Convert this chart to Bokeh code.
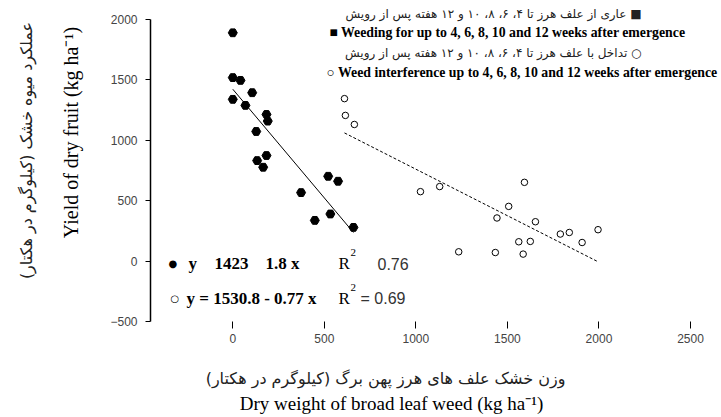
import numpy as np
from bokeh.plotting import figure
from bokeh.models import Label, FixedTicker, Range1d
from bokeh.embed import file_html
from bokeh.resources import INLINE

# ---------------- data ----------------
filled_x = [0, 0, 42, 106, 0, 69, 184, 191, 128, 184, 133, 166, 521, 575, 373, 533, 448, 659]
filled_y = [1890, 1519, 1496, 1394, 1339, 1289, 1214, 1159, 1073, 874, 832, 777, 702, 661, 567, 390, 337, 279]

open_x = [610, 615, 664, 1025, 1130, 1593, 1507, 1443, 1653, 1789, 1838, 1995, 1908, 1562, 1625, 1586, 1434, 1234]
open_y = [1345, 1206, 1131, 575, 617, 652, 453, 357, 326, 224, 237, 260, 154, 160, 163, 58, 71, 77]

fit_filled = [1423.0, -1.8]     # intercept, slope
fit_open = [1530.8, -0.77]
r2_filled = "0.76"
r2_open = "0.69"

x_ticks = [0, 500, 1000, 1500, 2000, 2500]
y_ticks = [-500, 0, 500, 1000, 1500, 2000]

legend_fa_1 = "عاری از علف هرز تا ۴، ۶، ۸، ۱۰ و ۱۲ هفته پس از رویش ■"
legend_en_1 = "■ Weeding for up to 4, 6, 8, 10 and 12 weeks after emergence"
legend_fa_2 = "تداخل با علف هرز تا ۴، ۶، ۸، ۱۰ و ۱۲ هفته پس از رویش ○"
legend_en_2 = "○ Weed interference up to 4, 6, 8, 10 and 12 weeks after emergence"

ytitle_fa = "عملکرد میوه خشک (کیلوگرم در هکتار)"
ytitle_en = "Yield of dry fruit (kg ha⁻¹)"
xtitle_fa = "وزن خشک علف های هرز پهن برگ (کیلوگرم در هکتار)"
xtitle_en = "Dry weight of broad leaf weed (kg ha⁻¹)"

# ---------------- figure ----------------
W, H = 719, 415
# the frame covers the whole canvas; axes are pinned inside it
XR = (-1268.8, 2658.4)
YR = (-1278.1, 2157.3)

p = figure(width=W, height=H, output_backend="svg", toolbar_location=None,
           x_range=Range1d(*XR), y_range=Range1d(*YR))
p.min_border_left = 0
p.min_border_right = 0
p.min_border_top = 0
p.min_border_bottom = 0
p.outline_line_color = None
p.grid.visible = False
p.background_fill_color = "white"
p.border_fill_color = "white"

def X(px):  # picture pixel -> data x
    return XR[0] + px / W * (XR[1] - XR[0])

def Y(py):  # picture pixel -> data y
    return YR[1] - py / H * (YR[1] - YR[0])

# axes
ya = p.yaxis[0]
ya.fixed_location = X(150)
ya.ticker = FixedTicker(ticks=y_ticks)
ya.bounds = (-500, 2000)
ya.axis_line_width = 1.5
ya.axis_line_color = "black"
ya.major_tick_out = 5
ya.major_tick_in = 0
ya.major_tick_line_color = "black"
ya.minor_tick_line_color = None
ya.major_label_standoff = 8
ya.major_label_text_font = "Liberation Sans"
ya.major_label_text_font_size = "12px"
ya.major_label_text_color = "#444444"

xa = p.xaxis[0]
xa.fixed_location = -500
xa.ticker = FixedTicker(ticks=x_ticks)
xa.axis_line_color = None
xa.major_tick_out = 7
xa.major_tick_in = 0
xa.major_tick_line_color = "black"
xa.minor_tick_line_color = None
xa.major_label_standoff = 5
xa.major_label_text_font = "Liberation Sans"
xa.major_label_text_font_size = "12px"
xa.major_label_text_color = "#444444"

# regression lines
fx = np.array([min(filled_x), max(filled_x)], dtype=float)
p.line(fx, fit_filled[0] + fit_filled[1] * fx, line_color="black", line_width=1)
ox = np.array([min(open_x), max(open_x)], dtype=float)
p.line(ox, fit_open[0] + fit_open[1] * ox, line_color="black", line_width=1, line_dash="3 2")

# points
p.scatter(filled_x, filled_y, marker="hex", size=9, fill_color="black", line_color="black")
p.scatter(open_x, open_y, marker="circle", size=6.5, fill_color="white", line_color="black", line_width=1)

def lab(text, px, py, size, font="Liberation Serif", style="normal", align="left",
        baseline="middle", color="black", angle=0.0):
    p.add_layout(Label(x=X(px), y=Y(py), text=text, text_font=font, text_font_size=size,
                       text_font_style=style, text_align=align, text_baseline=baseline,
                       text_color=color, angle=angle))

# legend
lab(legend_fa_1, 641, 13, "12px", font="DejaVu Sans", align="right", color="#222222")
lab(legend_en_1, 329, 32, "13.8px", style="bold")
lab(legend_fa_2, 641, 52, "12px", font="DejaVu Sans", align="right", color="#222222")
lab(legend_en_2, 326, 72, "13.8px", style="bold")

# equations
lab("●", 168, 263, "10px", font="DejaVu Sans")
lab("y", 188, 263, "17px", style="bold")
lab("1423", 214, 263, "17px", style="bold")
lab("1.8 x", 265, 263, "17px", style="bold")
lab("R", 338, 263, "17px")
lab("2", 350, 252, "11px")
lab(r2_filled, 377, 263, "16px", font="Liberation Sans", color="#333333")

lab("○", 170, 298, "10px", font="DejaVu Sans")
lab("y = 1530.8 - 0.77 x", 186, 298, "17px", style="bold")
lab("R", 338, 298, "17px")
lab("2", 350, 287, "11px")
lab("= " + r2_open, 360, 298, "16px", font="Liberation Sans", color="#333333")

# axis titles
lab(ytitle_fa, 26, 150, "16px", font="DejaVu Sans", align="center", angle=np.pi / 2, color="#222222")
lab(ytitle_en, 70, 132, "20px", align="center", angle=np.pi / 2)
lab(xtitle_fa, 385, 378, "16px", font="DejaVu Sans", align="center", color="#222222")
lab(xtitle_en, 391, 403, "19px", align="center")

open("out.html", "w").write(file_html(p, INLINE))
